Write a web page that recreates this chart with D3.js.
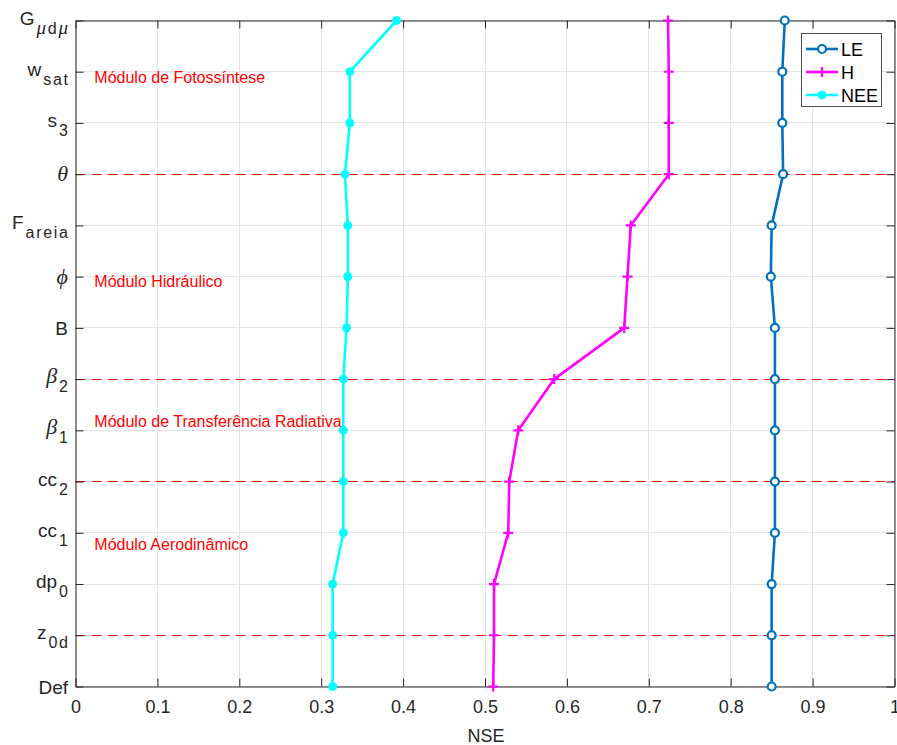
<!DOCTYPE html>
<html>
<head>
<meta charset="utf-8">
<script src="https://cdn.jsdelivr.net/npm/d3@7"></script>
<style>
  body { margin: 0; background: #fff; }
  svg { font-family: "Liberation Sans", Arial, sans-serif; }
</style>
</head>
<body>
<div id="chart"></div>
<script>
// parameters, top to bottom, written as main_{sub}
var params = ["G_{μdμ}", "w_{sat}", "s_{3}", "θ", "F_{areia}", "ϕ", "B",
    "β_{2}", "β_{1}", "cc_{2}", "cc_{1}", "dp_{0}", "z_{0d}", "Def"];

var nseLE = [0.866, 0.863, 0.863, 0.864, 0.850, 0.849, 0.854,
    0.854, 0.854, 0.854, 0.854, 0.850, 0.850, 0.850];
var nseH = [0.7235, 0.7244, 0.7244, 0.7244, 0.678, 0.674, 0.670,
    0.5845, 0.5406, 0.5296, 0.5284, 0.511, 0.511, 0.510];
var nseNEE = [0.392, 0.335, 0.335, 0.329, 0.3325, 0.3325, 0.331,
    0.327, 0.327, 0.327, 0.327, 0.314, 0.314, 0.314];

var xTicks = [0, 0.1, 0.2, 0.3, 0.4, 0.5, 0.6, 0.7, 0.8, 0.9, 1];
var xTickLabels = ["0", "0.1", "0.2", "0.3", "0.4", "0.5", "0.6", "0.7", "0.8", "0.9", "1"];

// module separators and their captions (x in NSE units, y in row units)
var dividers = ["θ", "β_{2}", "cc_{2}", "z_{0d}"];
var moduleNames = ["Módulo de Fotossíntese", "Módulo Hidráulico",
    "Módulo de Transferência Radiativa", "Módulo Aerodinâmico"];
var moduleX = [0.023, 0.023, 0.023, 0.023];
var moduleRow = [1.22, 5.2, 7.94, 10.34];

var seriesNames = ["LE", "H", "NEE"];
var seriesColors = ["#0072BD", "#FF00FF", "#00FFFF"];

// --> SVG
var width = 897,
    height = 745;
var svg = d3.select("#chart").append("svg")
    .attr("width", width)
    .attr("height", height);

var plotLeft = 75.5, plotRight = 894.5, plotTop = 20.5, plotBottom = 686.5;
var ink = "#262626";

var x = d3.scaleLinear().domain([0, 1]).range([plotLeft, plotRight]);
var y = d3.scalePoint().domain(params).range([plotTop, plotBottom]);
var yRow = d3.scaleLinear().domain([0, params.length - 1]).range([plotTop, plotBottom]);
function crisp(v) { return Math.round(v - 0.5) + 0.5; }

// grid
svg.append("g").selectAll("line").data(xTicks).enter().append("line")
    .attr("x1", function (d) { return crisp(x(d)); })
    .attr("x2", function (d) { return crisp(x(d)); })
    .attr("y1", plotTop).attr("y2", plotBottom)
    .attr("stroke", "#e3e3e3").attr("stroke-width", 1);
svg.append("g").selectAll("line").data(params).enter().append("line")
    .attr("x1", plotLeft).attr("x2", plotRight)
    .attr("y1", function (d) { return crisp(y(d)); })
    .attr("y2", function (d) { return crisp(y(d)); })
    .attr("stroke", "#e3e3e3").attr("stroke-width", 1);

// dashed module separators
svg.append("g").selectAll("line").data(dividers).enter().append("line")
    .attr("x1", plotLeft).attr("x2", plotRight)
    .attr("y1", function (d) { return crisp(y(d)); })
    .attr("y2", function (d) { return crisp(y(d)); })
    .attr("stroke", "#f01010").attr("stroke-width", 1.2)
    .attr("stroke-dasharray", "10,6");

// module captions
svg.append("g").selectAll("text").data(moduleNames).enter().append("text")
    .attr("x", function (d, i) { return x(moduleX[i]); })
    .attr("y", function (d, i) { return yRow(moduleRow[i]); })
    .attr("font-size", 16)
    .attr("fill", "#ff0000")
    .text(function (d) { return d; });

// axes
var xBottom = d3.axisBottom(x).tickValues(xTicks)
    .tickFormat(function (d, i) { return xTickLabels[i]; })
    .tickSizeInner(-8).tickSizeOuter(0).tickPadding(14);
var gB = svg.append("g").attr("transform", "translate(0," + plotBottom + ")").call(xBottom);
var xTop = d3.axisTop(x).tickValues(xTicks).tickFormat("")
    .tickSizeInner(-8).tickSizeOuter(0);
var gT = svg.append("g").attr("transform", "translate(0," + plotTop + ")").call(xTop);
var yLeft = d3.axisLeft(y).tickFormat("").tickSizeInner(-8).tickSizeOuter(0);
var gL = svg.append("g").attr("transform", "translate(" + plotLeft + ",0)").call(yLeft);
var yRight = d3.axisRight(y).tickFormat("").tickSizeInner(-8).tickSizeOuter(0);
var gR = svg.append("g").attr("transform", "translate(" + plotRight + ",0)").call(yRight);

[gB, gT, gL, gR].forEach(function (g) {
    g.select(".domain").attr("stroke", ink).attr("stroke-width", 1);
    g.selectAll(".tick line").attr("stroke", ink).attr("stroke-width", 1);
});
gB.attr("font-size", 18).attr("font-family", "Liberation Sans, Arial, sans-serif");
gB.selectAll(".tick text").attr("fill", ink);

// x label
svg.append("text")
    .attr("x", (plotLeft + plotRight) / 2 + 1)
    .attr("y", 742)
    .attr("text-anchor", "middle")
    .attr("font-size", 18)
    .attr("fill", ink)
    .text("NSE");

// y tick labels with tex-like subscripts
var greek = "μθϕβ";
function addChars(t, str, size, isSub) {
    str.split("").forEach(function (c, j) {
        var ts = t.append("tspan").text(c).attr("font-size", size);
        if (greek.indexOf(c) >= 0) {
            ts.attr("font-family", "Liberation Serif, DejaVu Serif, serif")
              .attr("font-style", "italic")
              .attr("font-size", size + 3);
        }
        if (isSub) {
            if (j === 0) ts.attr("dy", 9).attr("dx", 2);
            else ts.attr("dx", 1.7);
        }
    });
}
params.forEach(function (p) {
    var m = p.match(/^([^_]+)(?:_\{(.+)\})?$/);
    var main = m[1], sub = m[2];
    var t = svg.append("text")
        .attr("x", 68)
        .attr("y", y(p) + (sub ? 4 : 7))
        .attr("text-anchor", "end")
        .attr("fill", ink)
        .attr("font-size", 19);
    addChars(t, main, 19, false);
    if (sub) addChars(t, sub, 16, true);
});

// series
var series = [nseLE, nseH, nseNEE].map(function (vals, i) {
    return {
        name: seriesNames[i],
        color: seriesColors[i],
        points: vals.map(function (v, j) { return { k: params[j], v: v }; })
    };
});

var line = d3.line()
    .x(function (d) { return x(d.v); })
    .y(function (d) { return y(d.k); });

function drawMarker(g, name, color, cx, cy) {
    if (name === "LE") {
        g.append("circle").attr("cx", cx).attr("cy", cy).attr("r", 4)
            .attr("fill", "#fff").attr("stroke", color).attr("stroke-width", 2.2);
    } else if (name === "H") {
        g.append("path")
            .attr("d", "M" + (cx - 5) + "," + cy + "h10M" + cx + "," + (cy - 5) + "v10")
            .attr("stroke", color).attr("stroke-width", 2.2).attr("fill", "none");
    } else {
        g.append("circle").attr("cx", cx).attr("cy", cy).attr("r", 4)
            .attr("fill", color).attr("stroke", color).attr("stroke-width", 1);
    }
}

series.forEach(function (s) {
    var g = svg.append("g");
    g.append("path")
        .datum(s.points)
        .attr("d", line)
        .attr("fill", "none")
        .attr("stroke", s.color)
        .attr("stroke-width", 2.6)
        .attr("stroke-linejoin", "round");
    s.points.forEach(function (d) {
        drawMarker(g, s.name, s.color, x(d.v), y(d.k));
    });
});

// legend
var lg = svg.append("g");
lg.append("rect")
    .attr("x", 801.5).attr("y", 33.5)
    .attr("width", 80).attr("height", 73)
    .attr("fill", "#fff").attr("stroke", ink).attr("stroke-width", 0.8);
series.forEach(function (s, i) {
    var ly = 49 + i * 23;
    lg.append("line")
        .attr("x1", 806).attr("x2", 838)
        .attr("y1", ly).attr("y2", ly)
        .attr("stroke", s.color).attr("stroke-width", 2.6);
    drawMarker(lg, s.name, s.color, 822, ly);
    lg.append("text")
        .attr("x", 841).attr("y", ly + 6.5)
        .attr("font-size", 18).attr("fill", "#000")
        .text(s.name);
});
</script>
</body>
</html>
